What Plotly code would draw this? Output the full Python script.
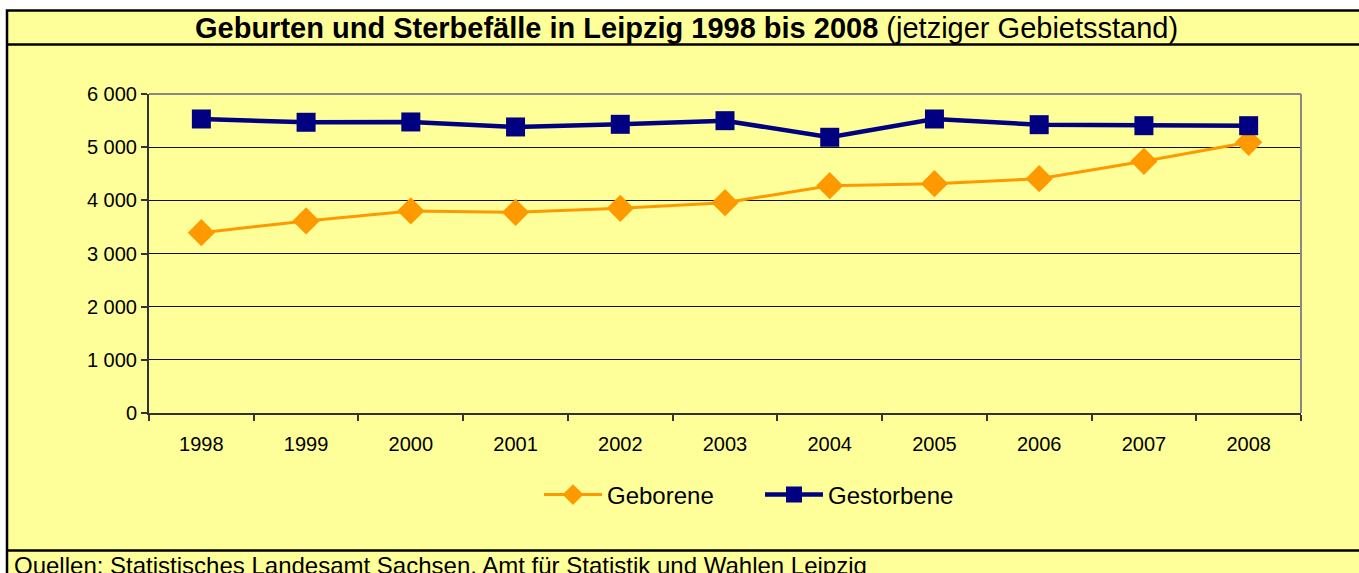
import plotly.graph_objects as go

# ---- data ----
years = ["1998", "1999", "2000", "2001", "2002", "2003", "2004", "2005", "2006", "2007", "2008"]
geborene = [3392, 3612, 3800, 3775, 3850, 3956, 4276, 4314, 4408, 4734, 5092]
gestorbene = [5530, 5468, 5474, 5380, 5430, 5498, 5186, 5530, 5423, 5404, 5404]
y_tickvals = [0, 1000, 2000, 3000, 4000, 5000, 6000]
y_ticktext = ["0", "1 000", "2 000", "3 000", "4 000", "5 000", "6 000"]

title_bold = "Geburten und Sterbefälle in Leipzig 1998 bis 2008"
title_normal = "(jetziger Gebietsstand)"
footer = "Quellen: Statistisches Landesamt Sachsen, Amt für Statistik und Wahlen Leipzig"

# ---- layout geometry (pixels) ----
W, H = 1359, 573
L, R, T, B = 149, 58, 94, 160
PW, PH = W - L - R, H - T - B


def px(x):
    return (x - L) / PW


def py(y):
    return (H - B - y) / PH


FONT = "Liberation Sans, Arial, sans-serif"
YELLOW = "#FFFF99"

fig = go.Figure()
fig.add_trace(go.Scatter(
    x=years, y=geborene, name="Geborene", mode="lines+markers",
    line=dict(color="#FF9900", width=3),
    marker=dict(symbol="diamond", size=21, color="#FF9900"),
))
fig.add_trace(go.Scatter(
    x=years, y=gestorbene, name="Gestorbene", mode="lines+markers",
    line=dict(color="#000080", width=4.5),
    marker=dict(symbol="square", size=19, color="#000080"),
))

shapes = [
    # outer yellow frame
    dict(type="rect", xref="paper", yref="paper", layer="below",
         x0=px(7), x1=px(1366), y0=py(580), y1=py(10.5),
         fillcolor=YELLOW, line=dict(color="black", width=2.5)),
    # title band separator
    dict(type="line", xref="paper", yref="paper", layer="below",
         x0=px(7), x1=px(1366), y0=py(44.5), y1=py(44.5),
         line=dict(color="black", width=2.5)),
    # footer separator
    dict(type="line", xref="paper", yref="paper", layer="below",
         x0=px(7), x1=px(1366), y0=py(550.5), y1=py(550.5),
         line=dict(color="black", width=2.5)),
    # plot area top & right border (gray)
    dict(type="line", xref="paper", yref="paper", layer="above",
         x0=0, x1=1, y0=1, y1=1, line=dict(color="#888888", width=2)),
    dict(type="line", xref="paper", yref="paper", layer="above",
         x0=1, x1=1, y0=0, y1=1, line=dict(color="#888888", width=2)),
]

annotations = [
    dict(xref="paper", yref="paper", x=px(686), y=py(27.5), xanchor="center", yanchor="middle",
         text=f"<b>{title_bold}</b> {title_normal}", showarrow=False,
         font=dict(family=FONT, size=29, color="black")),
    dict(xref="paper", yref="paper", x=px(12), y=py(565), xanchor="left", yanchor="middle",
         text=footer, showarrow=False,
         font=dict(family=FONT, size=24, color="black")),
]

fig.update_layout(
    width=W, height=H,
    margin=dict(l=L, r=R, t=T, b=B),
    paper_bgcolor="white",
    plot_bgcolor=YELLOW,
    font=dict(family=FONT, size=20, color="black"),
    shapes=shapes,
    annotations=annotations,
    showlegend=True,
    legend=dict(orientation="h", x=px(539), y=py(495), xanchor="left", yanchor="middle",
                font=dict(family=FONT, size=24, color="black"),
                bgcolor="rgba(0,0,0,0)", itemwidth=58, entrywidth=148,
                traceorder="normal"),
    xaxis=dict(
        type="category", range=[-0.5, 10.5],
        showgrid=False, zeroline=False,
        showline=True, linecolor="#333333", linewidth=2,
        ticks="outside", ticklen=6, tickcolor="#333333", tickwidth=1.5,
        tickson="boundaries", ticklabelstandoff=12,
        tickfont=dict(family=FONT, size=20, color="black"),
    ),
    yaxis=dict(
        range=[0, 6000], tickvals=y_tickvals, ticktext=y_ticktext,
        showgrid=True, gridcolor="#111111", gridwidth=1,
        zeroline=False,
        showline=True, linecolor="#333333", linewidth=2,
        ticks="outside", ticklen=6, tickcolor="#333333", tickwidth=1.5,
        ticklabelstandoff=0,
        tickfont=dict(family=FONT, size=20, color="black"),
    ),
)

fig.write_html("out.html", config={"displayModeBar": False},
               post_script="document.body.style.margin='0';")
